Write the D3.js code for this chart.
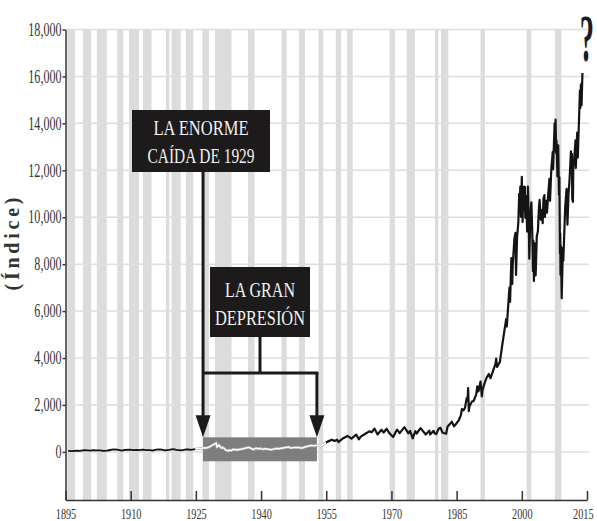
<!DOCTYPE html>
<html>
<head>
<meta charset="utf-8">
<script src="https://cdn.jsdelivr.net/npm/d3@7"></script>
<style>
  html, body { margin: 0; padding: 0; background: #fff; }
  svg { display: block; }
</style>
</head>
<body>
<svg id="chart" width="597" height="521"></svg>
<script>
// Dow Jones Industrial Average, 1895–2013 (decimal year, index level)
const years = [
  1895.6, 1896.6, 1897.0, 1897.7, 1898.3, 1899.3, 1900.0, 1900.7, 1901.4, 1902.0,
  1902.8, 1903.8, 1904.5, 1905.0, 1906.0, 1906.9, 1907.9, 1908.5, 1909.8, 1910.6,
  1911.3, 1911.9, 1912.8, 1913.5, 1914.5, 1914.95, 1915.9, 1916.8, 1917.9, 1918.8,
  1919.8, 1920.5, 1921.6, 1922.8, 1923.3, 1923.8, 1924.9, 1925.9, 1926.2, 1926.7,
  1927.5, 1928.0, 1928.9, 1929.7, 1929.85, 1930.3, 1930.9, 1931.2, 1931.95, 1932.5,
  1932.7, 1933.2, 1933.5, 1934.6, 1935.5, 1936.0, 1937.2, 1938.3, 1938.8, 1939.6,
  1939.7, 1940.4, 1940.9, 1942.3, 1942.9, 1943.5, 1944.0, 1945.9, 1946.4, 1946.8,
  1947.5, 1948.5, 1949.4, 1950.4, 1951.6, 1952.2, 1952.9, 1953.7, 1954.5, 1954.95,
  1955.9, 1956.3, 1956.9, 1957.5, 1957.8, 1958.9, 1959.9, 1960.8, 1961.9, 1962.5,
  1962.95, 1963.9, 1964.9, 1965.5, 1966.1, 1966.8, 1967.7, 1968.2, 1968.9, 1969.5,
  1970.4, 1970.95, 1971.3, 1971.9, 1972.9, 1973.0, 1973.9, 1974.3, 1974.9, 1975.5,
  1975.8, 1976.7, 1977.9, 1978.7, 1978.9, 1979.7, 1979.9, 1980.3, 1980.9, 1981.3,
  1981.75, 1982.2, 1982.6, 1982.9, 1983.9, 1984.4, 1984.95, 1985.5, 1985.95, 1986.2,
  1986.6, 1986.95, 1987.3, 1987.5, 1987.65, 1987.8, 1987.95, 1988.5, 1988.9, 1989.5,
  1989.75, 1989.85, 1990.05, 1990.5, 1990.8, 1990.95, 1991.4, 1991.9, 1992.4, 1992.8,
  1993.5, 1993.95, 1994.1, 1994.3, 1994.95, 1995.5, 1995.95, 1996.4, 1996.55, 1996.95,
  1997.15, 1997.3, 1997.6, 1997.8, 1997.9, 1998.3, 1998.55, 1998.67, 1998.9, 1999.2,
  1999.4, 1999.5, 1999.65, 1999.8, 2000.0, 2000.18, 2000.3, 2000.4, 2000.7, 2000.8,
  2000.95, 2001.05, 2001.22, 2001.4, 2001.6, 2001.72, 2001.95, 2002.2, 2002.4, 2002.56,
  2002.65, 2002.78, 2002.9, 2003.0, 2003.19, 2003.45, 2003.7, 2003.95, 2004.1, 2004.35,
  2004.6, 2004.8, 2004.98, 2005.2, 2005.3, 2005.6, 2005.8, 2005.98, 2006.35, 2006.5,
  2006.8, 2006.98, 2007.12, 2007.2, 2007.55, 2007.62, 2007.77, 2007.9, 2007.98, 2008.2,
  2008.38, 2008.55, 2008.65, 2008.78, 2008.85, 2008.9, 2008.98, 2009.18, 2009.45, 2009.55,
  2009.98, 2010.3, 2010.5, 2010.75, 2010.98, 2011.3, 2011.5, 2011.55, 2011.6, 2011.76,
  2011.85, 2011.98, 2012.35, 2012.42, 2012.75, 2012.88, 2012.98, 2013.38, 2013.48, 2013.6,
  2013.75, 2013.95
];
const djia = [
  40, 29, 40, 55, 43, 77, 67, 53, 78, 66,
  67, 42, 51, 70, 103, 94, 53, 80, 100, 73,
  87, 72, 94, 73, 72, 54, 99, 110, 66, 89,
  119, 85, 64, 103, 105, 86, 120, 159, 135, 166,
  170, 200, 295, 381, 199, 294, 158, 194, 74, 41,
  79, 50, 108, 86, 120, 144, 194, 99, 158, 128,
  155, 112, 138, 93, 119, 145, 134, 195, 212, 163,
  186, 193, 161, 228, 276, 256, 292, 255, 335, 404,
  488, 521, 467, 520, 420, 584, 679, 566, 734, 536,
  652, 763, 874, 840, 995, 744, 943, 825, 985, 801,
  631, 838, 950, 797, 1036, 1051, 788, 891, 577, 881,
  784, 1014, 742, 907, 742, 897, 796, 759, 1000, 1024,
  824, 795, 777, 1070, 1287, 1087, 1212, 1347, 1547, 1819,
  1775, 1896, 2286, 2180, 2722, 1738, 1939, 2142, 2169, 2440,
  2791, 2570, 2590, 2999, 2365, 2634, 2907, 3168, 3319, 3140,
  3516, 3754, 3978, 3620, 3834, 4556, 5117, 5654, 5346, 6448,
  7000, 6390, 8260, 7161, 7908, 9100, 9338, 7539, 9116, 9786,
  11000, 10500, 11300, 10019, 11723, 9796, 11290, 10300, 11300, 9975,
  10787, 10900, 9390, 11301, 10000, 8235, 10021, 10635, 9400, 7702,
  9000, 7286, 8896, 8300, 7524, 9200, 9400, 10453, 10737, 9900,
  10300, 9749, 10783, 10940, 10012, 10700, 10200, 10717, 11640, 10700,
  12100, 12463, 12786, 12050, 14000, 12845, 14164, 12743, 13264, 11740,
  13058, 10962, 11700, 8451, 9300, 7552, 8776, 6547, 8700, 8150,
  10428, 11205, 9686, 11000, 11578, 12810, 11900, 12700, 10800, 10655,
  12200, 12218, 13279, 12101, 13610, 12542, 13104, 15409, 14659, 15658,
  14776, 16150
];

// US recessions (start, end) shaded behind the series
const recessions = [
  [1895.4, 1897.2], [1899.0, 1900.9], [1902.2, 1904.5], [1906.9, 1908.3],
  [1909.6, 1911.9], [1912.8, 1914.8], [1918.1, 1918.9], [1919.4, 1921.5],
  [1922.7, 1924.4], [1926.5, 1928.0], [1929.4, 1933.2], [1937.0, 1938.5],
  [1944.7, 1945.9], [1948.7, 1950.1], [1953.2, 1954.3], [1957.2, 1958.4],
  [1959.8, 1961.1], [1969.6, 1970.8], [1973.5, 1975.4], [1980.0, 1980.8],
  [1981.4, 1983.1], [1990.5, 1991.5], [2001.1, 2002.2], [2007.6, 2009.1]
];

// Great Depression window: years and index band
const depressionYears = [1926.65, 1952.85];
const depressionBand = [-400, 620];

const yTicks = [0, 2000, 4000, 6000, 8000, 10000, 12000, 14000, 16000, 18000];
const xTicks = [1895, 1910, 1925, 1940, 1955, 1970, 1985, 2000, 2015];

const crashLabel = ["LA ENORME", "CAÍDA DE 1929"];
const depressionLabel = ["LA GRAN", "DEPRESIÓN"];
const yTitle = "(Índice)";

// ---------------------------------------------------------------
const svg = d3.select("#chart");
const serif = "'Liberation Serif', 'DejaVu Serif', serif";

const x = d3.scaleLinear().domain([1895, 2015]).range([65.5, 587]);
const y = d3.scaleLinear().domain([-2050, 18000]).range([500, 29.5]);

// squeeze text horizontally to mimic a condensed face
function condense(sel, factor) {
  sel.each(function () {
    const w = this.getComputedTextLength();
    d3.select(this).attr("textLength", w * factor).attr("lengthAdjust", "spacingAndGlyphs");
  });
}

// recession bands
svg.append("g").selectAll("rect").data(recessions).join("rect")
  .attr("x", d => x(d[0]))
  .attr("width", d => x(d[1]) - x(d[0]))
  .attr("y", y(18000))
  .attr("height", y(-2050) - y(18000))
  .attr("fill", "#dcdcdc");

// horizontal grid
svg.append("g").selectAll("line").data(yTicks).join("line")
  .attr("x1", x(1895)).attr("x2", x(2015) + 2)
  .attr("y1", d => y(d)).attr("y2", d => y(d))
  .attr("stroke", "#dedede").attr("stroke-width", 1.5);

// depression band
svg.append("rect")
  .attr("x", x(depressionYears[0]))
  .attr("width", x(depressionYears[1]) - x(depressionYears[0]))
  .attr("y", y(depressionBand[1]))
  .attr("height", y(depressionBand[0]) - y(depressionBand[1]))
  .attr("fill", "#7e7e7e");

// series
const series = years.map((t, i) => ({ t, v: djia[i] }));
const line = d3.line().x(d => x(d.t)).y(d => y(d.v));
const early = series.filter(d => d.t <= 1924.9);
const middle = series.filter(d => d.t >= 1924.9 && d.t <= 1955.9);
const late = series.filter(d => d.t >= 1954.95);

svg.append("path").datum(early).attr("d", line)
  .attr("fill", "none").attr("stroke", "#111").attr("stroke-width", 1.8)
  .attr("stroke-linejoin", "round");
svg.append("path").datum(middle).attr("d", line)
  .attr("fill", "none").attr("stroke", "#b5b5b5").attr("stroke-width", 2.6)
  .attr("stroke-linejoin", "round");
svg.append("path").datum(middle).attr("d", line)
  .attr("fill", "none").attr("stroke", "#fff").attr("stroke-width", 1.3)
  .attr("stroke-linejoin", "round");
svg.append("path").datum(late).attr("d", line)
  .attr("fill", "none").attr("stroke", "#141414").attr("stroke-width", 2.2)
  .attr("stroke-linejoin", "round");

// axes
const yAxis = svg.append("g")
  .attr("transform", `translate(${x(1895)},0)`)
  .call(d3.axisLeft(y).tickValues(yTicks).tickSize(3).tickSizeOuter(0).tickPadding(1)
    .tickFormat(d3.format(",")));
const xAxis = svg.append("g")
  .attr("transform", `translate(0,${y(-2050)})`)
  .call(d3.axisBottom(x).tickValues(xTicks).tickSize(-9).tickSizeOuter(0).tickPadding(8)
    .tickFormat(d => d));

[yAxis, xAxis].forEach(g => {
  g.select(".domain").attr("stroke", "#333").attr("stroke-width", 1.5);
  g.selectAll(".tick line").attr("stroke", "#333").attr("stroke-width", 1.5);
  g.selectAll(".tick text").attr("fill", "#333").attr("font-family", serif);
});
yAxis.selectAll(".tick text").attr("font-size", 18).call(condense, 0.67);
xAxis.selectAll(".tick text").attr("font-size", 15.5).call(condense, 0.66);
// keep the last year label inside the frame: right-align it near the edge
xAxis.selectAll(".tick text").filter(d => d === 2015)
  .attr("text-anchor", "end").attr("x", 593 - x(2015));

// y title
svg.append("text")
  .attr("transform", "translate(19,244) rotate(-90)")
  .attr("text-anchor", "middle")
  .attr("font-family", serif).attr("font-weight", "bold").attr("font-size", 20)
  .attr("fill", "#333")
  .attr("textLength", 93).attr("lengthAdjust", "spacing")
  .text(yTitle);

// annotations
const ann = svg.append("g");
const arrowColor = "#1a1a1a";
const xl = x(depressionYears[0]);
const xr = x(depressionYears[1]);
const tipY = y(depressionBand[1]);

function arrow(xp) {
  ann.append("path")
    .attr("d", `M${xp - 7.5},${tipY - 22} L${xp + 7.5},${tipY - 22} L${xp},${tipY} Z`)
    .attr("fill", arrowColor);
}

// crash callout
ann.append("line").attr("x1", xl).attr("x2", xl).attr("y1", 172).attr("y2", tipY - 20)
  .attr("stroke", arrowColor).attr("stroke-width", 3);
arrow(xl);
ann.append("rect").attr("x", 132).attr("y", 110).attr("width", 138).attr("height", 62)
  .attr("fill", "#1c1a1a");
ann.selectAll("text.crash").data(crashLabel).join("text")
  .attr("class", "crash")
  .attr("x", 201).attr("y", (d, i) => 135 + i * 28)
  .attr("text-anchor", "middle")
  .attr("font-family", serif).attr("font-size", 22).attr("fill", "#f2f2f2")
  .attr("textLength", (d, i) => [95, 107][i]).attr("lengthAdjust", "spacingAndGlyphs")
  .text(d => d);

// depression bracket
const bracketY = 373;
ann.append("line").attr("x1", 260).attr("x2", 260).attr("y1", 336).attr("y2", bracketY)
  .attr("stroke", arrowColor).attr("stroke-width", 3);
ann.append("line").attr("x1", xl).attr("x2", xr + 1.5).attr("y1", bracketY).attr("y2", bracketY)
  .attr("stroke", arrowColor).attr("stroke-width", 3);
ann.append("line").attr("x1", xr).attr("x2", xr).attr("y1", bracketY).attr("y2", tipY - 20)
  .attr("stroke", arrowColor).attr("stroke-width", 3);
arrow(xr);
ann.append("rect").attr("x", 210).attr("y", 267).attr("width", 100).attr("height", 70)
  .attr("fill", "#1c1a1a");
ann.selectAll("text.dep").data(depressionLabel).join("text")
  .attr("class", "dep")
  .attr("x", 260).attr("y", (d, i) => 297 + i * 28)
  .attr("text-anchor", "middle")
  .attr("font-family", serif).attr("font-size", 22).attr("fill", "#f2f2f2")
  .attr("textLength", (d, i) => [70, 90][i]).attr("lengthAdjust", "spacingAndGlyphs")
  .text(d => d);

// open question about the future
svg.append("text")
  .attr("transform", "translate(587,61) scale(0.42,1)")
  .attr("text-anchor", "middle")
  .attr("font-family", serif).attr("font-weight", "bold").attr("font-size", 68)
  .attr("fill", "#1b1d26")
  .text("?");
</script>
</body>
</html>
